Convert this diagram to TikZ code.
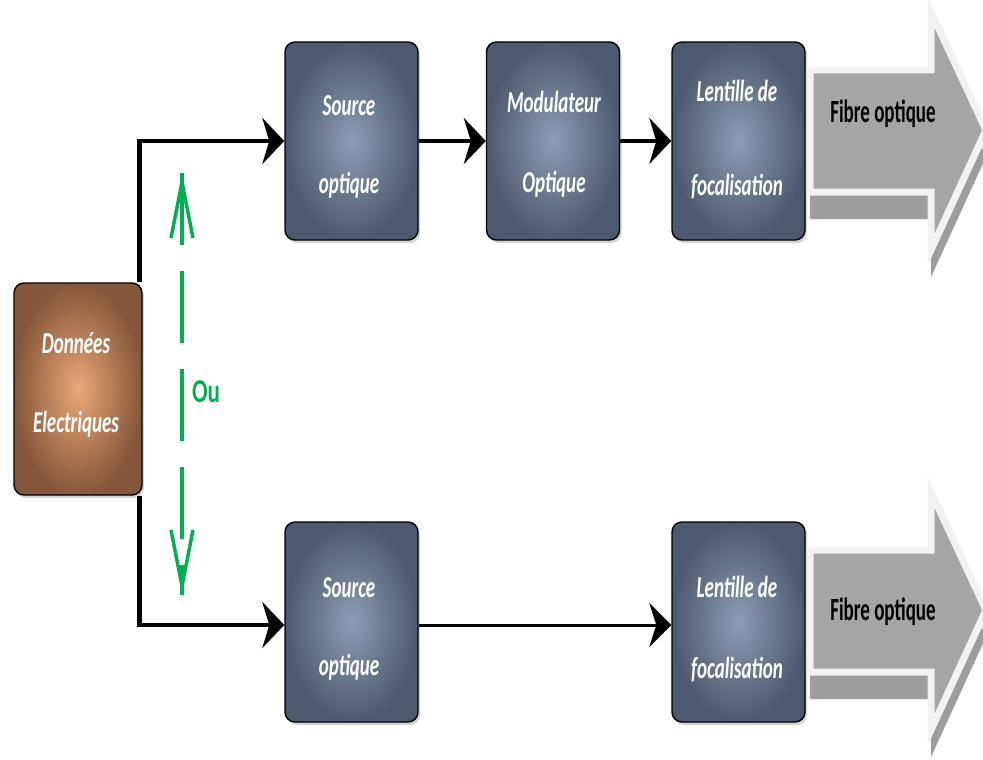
\documentclass[tikz,border=0pt]{standalone}
\usepackage{fontspec}
\setmainfont{Carlito}
\usetikzlibrary{arrows.meta,shadows,calc}
\newcommand\tallt[1]{\scalebox{1}[1.6]{#1}}
\newcommand\tallf[1]{\scalebox{1}[1.7]{#1}}
\definecolor{bluein}{HTML}{8C9DB5}
\definecolor{blueout}{HTML}{4D596E}
\definecolor{brownin}{HTML}{EBA878}
\definecolor{brownout}{HTML}{85573A}
\definecolor{ougreen}{HTML}{00B050}
\definecolor{fibgray}{HTML}{A6A6A6}
\definecolor{fibedge}{HTML}{F2F2F2}
\definecolor{fibshadow}{HTML}{8C8C8C}
\begin{document}
\begin{tikzpicture}[x=1pt,y=-1pt,
  blk/.style={draw=black, line width=1.4pt, rounded corners=10pt,
    inner color=bluein, outer color=blueout,
    minimum width=133pt, minimum height=198pt, inner sep=0pt,
    drop shadow={opacity=0.35,shadow xshift=2pt,shadow yshift=-3pt}},
  brownblk/.style={blk, inner color=brownin, outer color=brownout,
    minimum width=128pt, minimum height=212pt},
  lbl/.style={anchor=base, inner sep=0pt, text=white, font=\fontsize{19}{22}\selectfont\bfseries\itshape},
  conn/.style={black, line width=4.5pt, -{Stealth[length=22pt,width=46pt,inset=7pt]}},
  thinconn/.style={black, line width=3pt, -{Stealth[length=22pt,width=44pt,inset=7pt]}},
  fibtext/.style={anchor=base, inner sep=0pt, text=black, font=\fontsize{19}{22}\selectfont\bfseries},
  gline/.style={ougreen, line width=3.5pt},
  gtip/.style={ougreen, line width=3.5pt, -{Straight Barb[length=56pt,width=22pt,line width=3.5pt]}},
]
\useasboundingbox (0,0) rectangle (983,760);

% boxes
\node[brownblk] (d) at (78,389) {};
\node[blk] (s1) at (351.5,141) {};
\node[blk] (m) at (553,141) {};
\node[blk] (l1) at (738.5,141) {};
\node[blk, minimum height=200pt] (s2) at (351.5,622) {};
\node[blk, minimum height=200pt] (l2) at (738.5,622) {};

% box texts
\node[lbl] (da) at (76,353) {\tallt{Données}};
\node[lbl] (db) at (76,432) {\tallt{Electriques}};
\node[lbl] (s1a) at (349,115) {\tallt{Source}};
\node[lbl] (s1b) at (349,193) {\tallt{optique}};
\node[lbl] (ma) at (554,113) {\tallt{Modulateur}};
\node[lbl] (mb) at (554,192) {\tallt{Optique}};
\node[lbl] (l1a) at (737,102) {\tallt{Lentille de}};
\node[lbl] (l1b) at (737,195) {\tallt{focalisation}};
\node[lbl] (s2a) at (349,597) {\tallt{Source}};
\node[lbl] (s2b) at (349,675) {\tallt{optique}};
\node[lbl] (l2a) at (737,597) {\tallt{Lentille de}};
\node[lbl] (l2b) at (737,678) {\tallt{focalisation}};

% fibre arrows
\foreach \c/\n/\ty in {130/f1/122, 610/f2/620}{
  \fill[fibshadow, opacity=0.85] (810,\c-33) -- (931,\c-33) -- (931,\c-91) -- (986,\c+27) -- (931,\c+147) -- (931,\c+89) -- (810,\c+89) -- cycle;
  \filldraw[fill=fibgray, draw=fibedge, line width=7pt, line join=miter]
    (810,\c-60) -- (931,\c-60) -- (931,\c-118) -- (986,\c) -- (931,\c+120) -- (931,\c+62) -- (810,\c+62) -- cycle;
  \node[fibtext] (\n) at (883,\ty) {\tallf{Fibre optique}};
}

% connectors
\draw[conn] ([xshift=-3pt]d.north east) |- (s1.west);
\draw[conn] (s1.east) -- (m.west);
\draw[conn] (m.east) -- (l1.west);
\draw[conn] ([xshift=-3pt]d.south east) |- ([yshift=-3pt]s2.west);
\draw[thinconn] ([yshift=-3pt]s2.east) -- ([yshift=-3pt]l2.west);

% green "Ou" double arrow
\coordinate (g1) at (182,173);
\coordinate (g2) at (182,595);
\coordinate (g1b) at (182,200);
\coordinate (g2b) at (182,570);
\draw[gline, dash pattern=on 72pt off 26pt] (g1) -- (g2);
\draw[gtip] (g1b) -- (g1);
\draw[gtip] (g2b) -- (g2);
\node[anchor=base, inner sep=0pt, text=ougreen, font=\fontsize{23}{26}\selectfont\bfseries] (ou) at (206,402) {\scalebox{1}[1.45]{Ou}};
\end{tikzpicture}
\end{document}
